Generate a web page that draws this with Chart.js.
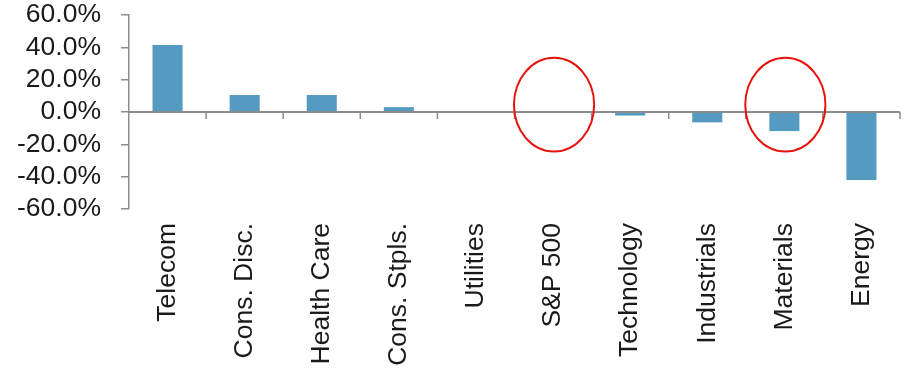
<!DOCTYPE html>
<html>
<head>
<meta charset="utf-8">
<script src="https://cdn.jsdelivr.net/npm/chart.js@4/dist/chart.umd.min.js"></script>
<style>
  html, body { margin: 0; padding: 0; background: #ffffff; }
  #wrap { width: 905px; height: 374px; position: relative; }
</style>
</head>
<body>
<div id="wrap"><canvas id="chart"></canvas></div>
<script>
// Sector returns (%)
const sectors = ['Telecom', 'Cons. Disc.', 'Health Care', 'Cons. Stpls.', 'Utilities',
                 'S&P 500', 'Technology', 'Industrials', 'Materials', 'Energy'];
const returns = [41.5, 10.5, 10.5, 3.0, 0.0, -0.4, -2.2, -6.4, -11.8, -42.0];
const yTicks = [-60, -40, -20, 0, 20, 40, 60];
// Categories circled in red
const highlighted = ['S&P 500', 'Materials'];

const barBlue = '#559ac1';
const indexOlive = '#a8a060';
const axisGray = '#8c8c8c';

// Zero line with downward tick marks between categories, plus red ellipses
const zeroLineAndCircles = {
  id: 'zeroLineAndCircles',
  afterDatasetsDraw(chart) {
    const { ctx, chartArea, scales } = chart;
    const x = scales.x, y = scales.y;
    const y0 = y.getPixelForValue(0);
    const step = x.getPixelForValue(1) - x.getPixelForValue(0);
    ctx.save();
    ctx.strokeStyle = axisGray;
    ctx.lineWidth = 2;
    ctx.beginPath();
    ctx.moveTo(chartArea.left, y0);
    ctx.lineTo(chartArea.right, y0);
    ctx.stroke();
    ctx.lineWidth = 1.5;
    for (let i = 1; i <= sectors.length; i++) {
      const bx = x.getPixelForValue(i) - step / 2;
      ctx.beginPath();
      ctx.moveTo(bx, y0);
      ctx.lineTo(bx, y0 + 7);
      ctx.stroke();
    }
    ctx.strokeStyle = '#e8120c';
    ctx.lineWidth = 2;
    highlighted.forEach(name => {
      const i = sectors.indexOf(name);
      const cx = x.getPixelForValue(i) + 1;
      const cy = y.getPixelForValue(4.5);
      const rx = step * 0.52;
      const ry = Math.abs(y.getPixelForValue(0) - y.getPixelForValue(29));
      ctx.beginPath();
      ctx.ellipse(cx, cy, rx, ry, 0, 0, Math.PI * 2);
      ctx.stroke();
    });
    ctx.restore();
  }
};

new Chart(document.getElementById('chart'), {
  type: 'bar',
  data: {
    labels: sectors,
    datasets: [{
      data: returns,
      backgroundColor: sectors.map(s => s === 'S&P 500' ? indexOlive : barBlue),
      borderWidth: 0,
      barPercentage: 0.39,
      categoryPercentage: 1.0
    }]
  },
  options: {
    responsive: true,
    maintainAspectRatio: false,
    animation: false,
    layout: { padding: { top: 15, right: 5, left: 0, bottom: 0 } },
    plugins: { legend: { display: false }, tooltip: { enabled: false } },
    scales: {
      x: {
        grid: { display: false },
        border: { display: false },
        ticks: {
          autoSkip: false,
          minRotation: 90,
          maxRotation: 90,
          padding: 6,
          color: '#1a1a1a',
          font: { family: 'Liberation Sans, Arial, sans-serif', size: 26.5 }
        },
        afterFit(scale) {
          scale.height = 165;
          scale.paddingLeft = 0;
          scale.paddingRight = 0;
        }
      },
      y: {
        min: -60,
        max: 60,
        afterBuildTicks(scale) { scale.ticks = yTicks.map(v => ({ value: v })); },
        grid: { drawOnChartArea: false, tickLength: 8, color: axisGray, lineWidth: 1.5 },
        border: { display: true, color: axisGray, width: 1.5 },
        ticks: {
          autoSkip: false,
          padding: 20,
          color: '#1a1a1a',
          font: { family: 'Liberation Sans, Arial, sans-serif', size: 26.5 },
          callback: v => v.toFixed(1) + '%'
        },
        afterFit(scale) {
          scale.width = 129;
          scale.paddingTop = 0;
          scale.paddingBottom = 0;
        }
      }
    }
  },
  plugins: [zeroLineAndCircles]
});
</script>
</body>
</html>
